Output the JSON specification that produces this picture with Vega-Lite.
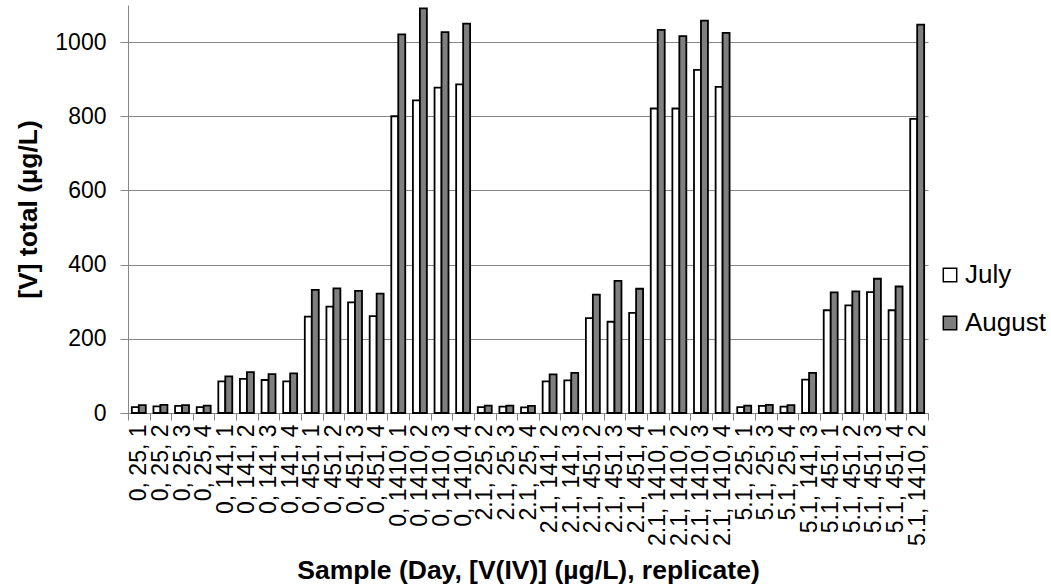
{
  "$schema": "https://vega.github.io/schema/vega-lite/v6.json",
  "width": 800,
  "height": 408,
  "autosize": {"type": "none"},
  "padding": {"left": 128, "top": 5, "right": 123, "bottom": 174},
  "background": "white",
  "config": {"view": {"stroke": null}, "font": "Liberation Sans"},
  "data": {
    "values": [
      {"sample": "0, 25, 1", "month": "July", "value": 16},
      {"sample": "0, 25, 1", "month": "August", "value": 21},
      {"sample": "0, 25, 2", "month": "July", "value": 18},
      {"sample": "0, 25, 2", "month": "August", "value": 22},
      {"sample": "0, 25, 3", "month": "July", "value": 19},
      {"sample": "0, 25, 3", "month": "August", "value": 21},
      {"sample": "0, 25, 4", "month": "July", "value": 16},
      {"sample": "0, 25, 4", "month": "August", "value": 20},
      {"sample": "0, 141, 1", "month": "July", "value": 85},
      {"sample": "0, 141, 1", "month": "August", "value": 99},
      {"sample": "0, 141, 2", "month": "July", "value": 92},
      {"sample": "0, 141, 2", "month": "August", "value": 110},
      {"sample": "0, 141, 3", "month": "July", "value": 89},
      {"sample": "0, 141, 3", "month": "August", "value": 105},
      {"sample": "0, 141, 4", "month": "July", "value": 85},
      {"sample": "0, 141, 4", "month": "August", "value": 107},
      {"sample": "0, 451, 1", "month": "July", "value": 260},
      {"sample": "0, 451, 1", "month": "August", "value": 332},
      {"sample": "0, 451, 2", "month": "July", "value": 287},
      {"sample": "0, 451, 2", "month": "August", "value": 336},
      {"sample": "0, 451, 3", "month": "July", "value": 298},
      {"sample": "0, 451, 3", "month": "August", "value": 329},
      {"sample": "0, 451, 4", "month": "July", "value": 261},
      {"sample": "0, 451, 4", "month": "August", "value": 322},
      {"sample": "0, 1410, 1", "month": "July", "value": 800},
      {"sample": "0, 1410, 1", "month": "August", "value": 1021},
      {"sample": "0, 1410, 2", "month": "July", "value": 843},
      {"sample": "0, 1410, 2", "month": "August", "value": 1091},
      {"sample": "0, 1410, 3", "month": "July", "value": 877},
      {"sample": "0, 1410, 3", "month": "August", "value": 1027},
      {"sample": "0, 1410, 4", "month": "July", "value": 886},
      {"sample": "0, 1410, 4", "month": "August", "value": 1050},
      {"sample": "2.1, 25, 2", "month": "July", "value": 16},
      {"sample": "2.1, 25, 2", "month": "August", "value": 20},
      {"sample": "2.1, 25, 3", "month": "July", "value": 17},
      {"sample": "2.1, 25, 3", "month": "August", "value": 20},
      {"sample": "2.1, 25, 4", "month": "July", "value": 15},
      {"sample": "2.1, 25, 4", "month": "August", "value": 19},
      {"sample": "2.1, 141, 2", "month": "July", "value": 85},
      {"sample": "2.1, 141, 2", "month": "August", "value": 104},
      {"sample": "2.1, 141, 3", "month": "July", "value": 88},
      {"sample": "2.1, 141, 3", "month": "August", "value": 108},
      {"sample": "2.1, 451, 2", "month": "July", "value": 256},
      {"sample": "2.1, 451, 2", "month": "August", "value": 319},
      {"sample": "2.1, 451, 3", "month": "July", "value": 246},
      {"sample": "2.1, 451, 3", "month": "August", "value": 356},
      {"sample": "2.1, 451, 4", "month": "July", "value": 270},
      {"sample": "2.1, 451, 4", "month": "August", "value": 335},
      {"sample": "2.1, 1410, 1", "month": "July", "value": 821},
      {"sample": "2.1, 1410, 1", "month": "August", "value": 1033},
      {"sample": "2.1, 1410, 2", "month": "July", "value": 821},
      {"sample": "2.1, 1410, 2", "month": "August", "value": 1016},
      {"sample": "2.1, 1410, 3", "month": "July", "value": 925},
      {"sample": "2.1, 1410, 3", "month": "August", "value": 1058},
      {"sample": "2.1, 1410, 4", "month": "July", "value": 879},
      {"sample": "2.1, 1410, 4", "month": "August", "value": 1025},
      {"sample": "5.1, 25, 1", "month": "July", "value": 16},
      {"sample": "5.1, 25, 1", "month": "August", "value": 20},
      {"sample": "5.1, 25, 3", "month": "July", "value": 19},
      {"sample": "5.1, 25, 3", "month": "August", "value": 22},
      {"sample": "5.1, 25, 4", "month": "July", "value": 17},
      {"sample": "5.1, 25, 4", "month": "August", "value": 21},
      {"sample": "5.1, 141, 3", "month": "July", "value": 90},
      {"sample": "5.1, 141, 3", "month": "August", "value": 108},
      {"sample": "5.1, 451, 1", "month": "July", "value": 277},
      {"sample": "5.1, 451, 1", "month": "August", "value": 325},
      {"sample": "5.1, 451, 2", "month": "July", "value": 290},
      {"sample": "5.1, 451, 2", "month": "August", "value": 328},
      {"sample": "5.1, 451, 3", "month": "July", "value": 326},
      {"sample": "5.1, 451, 3", "month": "August", "value": 362},
      {"sample": "5.1, 451, 4", "month": "July", "value": 277},
      {"sample": "5.1, 451, 4", "month": "August", "value": 341},
      {"sample": "5.1, 1410, 2", "month": "July", "value": 793},
      {"sample": "5.1, 1410, 2", "month": "August", "value": 1047}
    ]
  },
  "mark": {"type": "bar", "stroke": "black", "strokeWidth": 1.8},
  "encoding": {
    "x": {
      "field": "sample",
      "type": "nominal",
      "sort": null,
      "scale": {"paddingInner": 0, "paddingOuter": 0},
      "axis": {
        "title": "Sample (Day, [V(IV)] (µg/L), replicate)",
        "labelAngle": -90,
        "labelFontSize": 23,
        "labelColor": "black",
        "labelOverlap": false,
        "labelLimit": 0,
        "labelPadding": 4,
        "tickBand": "extent",
        "tickSize": 7,
        "tickColor": "#868686",
        "domainColor": "#868686",
        "titleFontSize": 26.5,
        "titleFontWeight": "bold",
        "titleColor": "black",
        "titlePadding": 12,
        "grid": false
      }
    },
    "xOffset": {
      "field": "month",
      "sort": ["July", "August"],
      "scale": {"paddingInner": 0, "paddingOuter": 0.55}
    },
    "y": {
      "field": "value",
      "type": "quantitative",
      "scale": {"domain": [0, 1100], "nice": false},
      "axis": {
        "values": [0, 200, 400, 600, 800, 1000],
        "format": "d",
        "title": "[V] total (µg/L)",
        "grid": true,
        "gridColor": "#868686",
        "gridWidth": 1,
        "domainColor": "#868686",
        "tickColor": "#868686",
        "tickSize": 8,
        "labelFontSize": 23,
        "labelColor": "black",
        "labelPadding": 14,
        "titleFontSize": 26.5,
        "titleFontWeight": "bold",
        "titleColor": "black",
        "titlePadding": 12
      }
    },
    "color": {
      "field": "month",
      "type": "nominal",
      "sort": ["July", "August"],
      "scale": {"range": ["#ffffff", "#7f7f7f"]},
      "legend": {
        "orient": "none",
        "legendX": 809,
        "legendY": 257,
        "title": null,
        "labelFontSize": 26,
        "labelColor": "black",
        "symbolType": "square",
        "symbolSize": 180,
        "symbolStrokeColor": "black",
        "symbolStrokeWidth": 1.5,
        "rowPadding": 22,
        "labelOffset": 2
      }
    }
  }
}
